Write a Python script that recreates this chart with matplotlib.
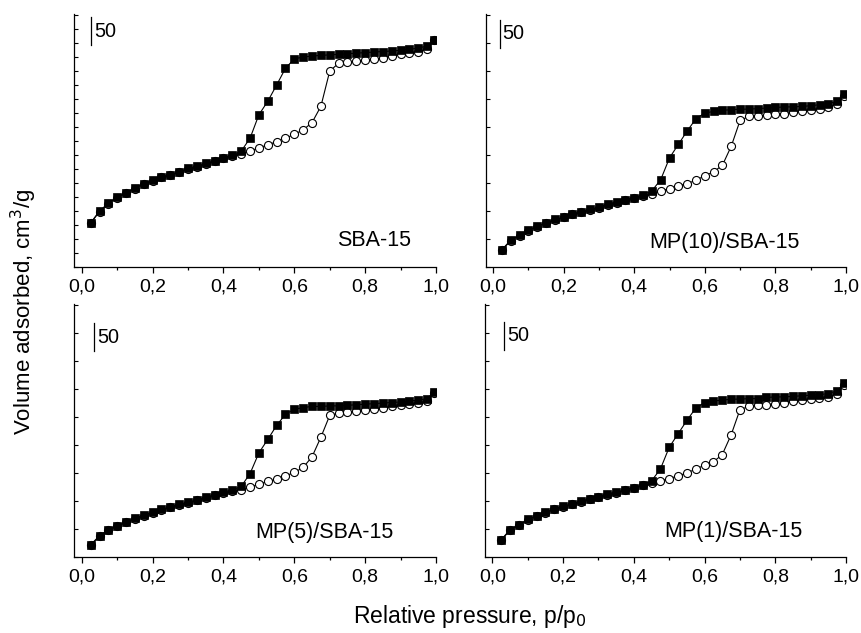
import matplotlib
matplotlib.use("Agg")
import matplotlib.pyplot as plt
from matplotlib.ticker import MultipleLocator, FuncFormatter

plt.rcParams['font.family'] = ['Liberation Sans', 'DejaVu Sans']

# relative pressure points
p = [0.025, 0.05, 0.075, 0.1, 0.125, 0.15, 0.175, 0.2, 0.225, 0.25,
     0.275, 0.3, 0.325, 0.35, 0.375, 0.4, 0.425, 0.45, 0.475, 0.5,
     0.525, 0.55, 0.575, 0.6, 0.625, 0.65, 0.675, 0.7, 0.725, 0.75,
     0.775, 0.8, 0.825, 0.85, 0.875, 0.9, 0.925, 0.95, 0.975, 0.995]

samples = ["SBA-15", "MP(10)/SBA-15", "MP(5)/SBA-15", "MP(1)/SBA-15"]

# adsorption (open circles) and desorption (filled squares), cm3/g (offset scale)
ads_sba = [78, 99, 113, 124, 132, 140, 148, 154, 160, 165,
           169, 175, 179, 184, 189, 194, 199, 202, 207, 213,
           218, 224, 230, 237, 245, 258, 287, 350, 364, 366,
           368, 369, 371, 374, 377, 380, 382, 385, 389, 406]
des_sba = [79, 100, 114, 125, 133, 141, 149, 155, 161, 165,
           170, 176, 180, 185, 190, 195, 200, 207, 230, 272,
           296, 325, 355, 372, 375, 377, 378, 379, 380, 381,
           382, 383, 384, 385, 386, 387, 389, 391, 395, 406]

ads_mp10 = [30, 47, 56, 65, 72, 78, 84, 89, 94, 98,
            102, 106, 111, 115, 119, 123, 127, 131, 136, 140,
            145, 149, 155, 163, 170, 182, 216, 262, 269, 270,
            271, 273, 274, 277, 279, 281, 283, 286, 291, 306]
des_mp10 = [31, 48, 57, 66, 73, 79, 85, 89, 94, 99,
            103, 107, 113, 116, 120, 124, 129, 136, 156, 195,
            219, 243, 265, 275, 278, 280, 281, 282, 282, 283,
            284, 285, 286, 286, 287, 288, 290, 292, 296, 309]

ads_mp5 = [21, 37, 48, 55, 62, 68, 74, 79, 84, 89,
           93, 97, 101, 106, 110, 114, 118, 119, 125, 130,
           135, 139, 145, 151, 160, 179, 214, 253, 257, 259,
           260, 262, 264, 266, 269, 271, 273, 275, 279, 293]
des_mp5 = [22, 38, 49, 56, 63, 69, 75, 80, 85, 90,
           94, 98, 102, 107, 111, 116, 120, 126, 149, 186,
           210, 235, 255, 264, 267, 269, 269, 270, 270, 271,
           272, 273, 274, 275, 276, 277, 279, 280, 283, 295]

ads_mp1 = [30, 48, 57, 66, 73, 79, 85, 90, 94, 99,
           103, 107, 111, 115, 119, 123, 128, 132, 136, 140,
           145, 150, 157, 164, 170, 183, 218, 263, 269, 271,
           272, 274, 276, 278, 280, 282, 284, 286, 291, 308]
des_mp1 = [31, 49, 58, 67, 74, 80, 86, 91, 95, 100,
           104, 108, 113, 116, 120, 124, 129, 136, 157, 196,
           220, 244, 266, 276, 279, 280, 282, 282, 283, 283,
           285, 286, 286, 287, 288, 289, 290, 292, 297, 310]

ads_all = [ads_sba, ads_mp10, ads_mp5, ads_mp1]
des_all = [des_sba, des_mp10, des_mp5, des_mp1]

fig = plt.figure(figsize=(8.61, 6.33), dpi=100)
W, H = 861.0, 633.0
# axes boxes in pixels: left, top, right, bottom
boxes = [(74, 14, 436, 267), (486, 14, 846, 267),
         (74, 304, 436, 557), (485, 304, 846, 557)]
xleft = [-0.022, -0.020, -0.022, -0.021]
ytick_step = [25, 50, 50, 50]
bar_pos = [(0.026, 396), (0.019, 392), (0.035, 368), (0.033, 370)]
label_pos = [(0.722, 47), (0.442, 44), (0.49, 43), (0.486, 46)]

def comma(x, pos):
    return ("%.1f" % x).replace(".", ",")

for i in range(4):
    l, t, r, b = boxes[i]
    ax = fig.add_axes([l / W, 1 - b / H, (r - l) / W, (b - t) / H])
    ax.plot(p, ads_all[i], '-', color='black', lw=0.8, marker='o', ms=5.8,
            mfc='white', mec='black', mew=0.8, zorder=2)
    ax.plot(p, des_all[i], '-', color='black', lw=0.8, marker='s', ms=5.6,
            mfc='black', mec='black', mew=0.5, zorder=3)
    ax.set_xlim(xleft[i], 1.0)
    ax.set_ylim(0, 452)
    for s in ['top', 'right']:
        ax.spines[s].set_visible(False)
    for s in ['left', 'bottom']:
        ax.spines[s].set_linewidth(0.9)
    ax.xaxis.set_major_locator(MultipleLocator(0.2))
    ax.xaxis.set_minor_locator(MultipleLocator(0.1))
    ax.xaxis.set_major_formatter(FuncFormatter(comma))
    ax.yaxis.set_major_locator(MultipleLocator(ytick_step[i]))
    ax.tick_params(axis='x', which='major', direction='out', length=4,
                   width=0.9, labelsize=14, pad=4)
    ax.tick_params(axis='x', which='minor', direction='out', length=2, width=0.9)
    ax.tick_params(axis='y', which='major', direction='in', length=3,
                   width=0.8, labelleft=False)
    bx, by = bar_pos[i]
    ax.plot([bx, bx], [by, by + 50], color='black', lw=0.9, clip_on=False)
    ax.text(bx + 0.008, by + 25, "50", fontsize=14.3, ha='left', va='center')
    lx, ly = label_pos[i]
    ax.text(lx, ly, samples[i], fontsize=15.5, ha='left', va='center')

fig.text(24 / W, 1 - 312 / H, "Volume adsorbed, cm$^3$/g", rotation=90,
         ha='center', va='center', fontsize=16)
fig.text(470 / W, 1 - 617 / H, "Relative pressure, p/p$_0$",
         ha='center', va='center', fontsize=16.5)

fig.savefig("out.png", dpi=100)
